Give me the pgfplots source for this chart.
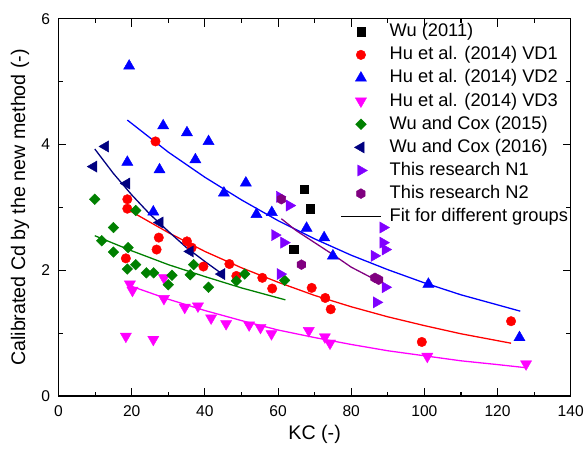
\documentclass[border=0pt]{standalone}
\usepackage{fontspec}
\setmainfont{Liberation Sans}
\usepackage{pgfplots}
\pgfplotsset{compat=1.18}

\definecolor{navyc}{RGB}{0,0,128}
\definecolor{violetc}{RGB}{128,0,255}
\definecolor{purplec}{RGB}{128,0,128}
\definecolor{greenc}{RGB}{0,128,0}
\definecolor{magc}{RGB}{255,0,255}
\definecolor{bluec}{RGB}{0,0,255}
\definecolor{redc}{RGB}{255,0,0}

% filled hexagon mark
\pgfdeclareplotmark{hexa*}{%
  \pgfpathmoveto{\pgfqpointpolar{30}{\pgfplotmarksize}}%
  \pgfpathlineto{\pgfqpointpolar{90}{\pgfplotmarksize}}%
  \pgfpathlineto{\pgfqpointpolar{150}{\pgfplotmarksize}}%
  \pgfpathlineto{\pgfqpointpolar{210}{\pgfplotmarksize}}%
  \pgfpathlineto{\pgfqpointpolar{270}{\pgfplotmarksize}}%
  \pgfpathlineto{\pgfqpointpolar{330}{\pgfplotmarksize}}%
  \pgfpathclose
  \pgfusepathqfillstroke}

\pgfplotsset{
  pts/.style={only marks, draw=#1, fill=#1,
    legend image code/.code={\draw[mark repeat=2,mark phase=2,##1] plot coordinates {(0pt,0pt)(20pt,0pt)(40pt,0pt)};}},
  linelegend/.style={legend image code/.code={\draw[##1] (0pt,0pt) -- (40pt,0pt);}},
  fit/.style={#1, line width=1.3pt, no marks, forget plot},
}

\begin{document}
\begin{tikzpicture}
\begin{axis}[
  name=ax,
  scale only axis,
  width=516pt, height=380pt,
  xmin=0, xmax=140, ymin=0, ymax=6,
  xtick={0,20,...,140}, minor xtick={10,30,...,130},
  ytick={0,2,4,6}, minor ytick={1,3,5},
  tick align=inside,
  major tick length=8pt, minor tick length=4.5pt,
  axis line style={line width=1.3pt},
  every tick/.style={line width=1.1pt, black},
  /pgf/number format/assume math mode=true,
  tick label style={font=\fontsize{15.7}{18}\selectfont},
  xticklabel style={yshift=-6pt},
  yticklabel style={xshift=-5pt},
  label style={font=\fontsize{19.8}{23}\selectfont},
  xlabel={KC (-)},
  ylabel={Calibrated Cd by the new method (-)},
  xlabel style={at={(axis description cs:0.5,-0.1026)}, anchor=center},
  ylabel style={at={(axis description cs:-0.075,0.5)}, anchor=center},
  legend style={draw=none, fill=none, inner sep=0pt, at={(0.55,0.997)}, anchor=north west,
    font=\fontsize{18.4}{22}\selectfont,
    nodes={text height=14.3pt, text depth=4.3pt, inner sep=2.35pt},
    column sep=6pt},
  legend cell align=left,
]

% fitted curves
\addplot[fit=bluec] coordinates {(18.8,4.39)(30,3.88)(40,3.48)(50,3.12)(60,2.79)(70,2.50)(80,2.24)(90,2.01)(100,1.80)(110,1.61)(120,1.45)(126.2,1.35)};
\addplot[fit=redc] coordinates {(18.8,2.97)(30,2.60)(40,2.30)(50,2.04)(60,1.81)(70,1.60)(80,1.42)(90,1.26)(100,1.12)(110,0.99)(123.7,0.84)};
\addplot[fit=magc] coordinates {(19.7,1.75)(30,1.54)(40,1.36)(50,1.20)(60,1.05)(70,0.93)(80,0.82)(90,0.72)(100,0.64)(110,0.56)(120,0.50)(127.8,0.45)};
\addplot[fit=greenc] coordinates {(9.9,2.55)(20,2.31)(30,2.09)(40,1.90)(50,1.72)(62,1.53)};
\addplot[fit=navyc] coordinates {(9.9,3.93)(15,3.54)(20,3.20)(25,2.89)(30,2.62)(35,2.36)(40,2.14)(45,1.93)};
\addplot[fit=purplec] coordinates {(60.9,2.82)(65,2.63)(70,2.44)(75,2.25)(80,2.05)(86.6,1.85)};

% Wu (2011)
\addplot[pts=black, mark=square*, mark size=4.2pt] coordinates {(67.2,3.29)(68.8,2.98)(64.3,2.34)};
\addlegendentry{Wu (2011)}
% Hu et al. (2014) VD1
\addplot[pts=redc, mark=*, mark size=4.8pt] coordinates {
  (26.5,4.05)(18.8,3.13)(18.8,2.98)(27.4,2.52)(26.8,2.33)(18.4,2.19)(35.1,2.46)(36.4,2.36)
  (39.6,2.06)(46.7,2.10)(48.6,1.91)(55.7,1.88)(58.4,1.71)(69.2,1.72)(72.9,1.56)(74.4,1.38)
  (99.3,0.86)(123.7,1.19)};
\addlegendentry{Hu et al. (2014) VD1}
% Hu et al. (2014) VD2
\addplot[pts=bluec, mark=triangle*, mark size=6.5pt] coordinates {
  (19.3,5.25)(18.8,3.72)(25.9,2.93)(27.6,3.60)(28.6,4.30)(35.1,4.19)(37.4,3.76)(41.0,4.05)
  (45.2,3.23)(51.2,3.39)(54.1,2.89)(58.3,2.92)(67.8,2.67)(72.6,2.52)(75.0,2.23)(101.1,1.78)(126.0,0.93)};
\addlegendentry{Hu et al. (2014) VD2}
% Hu et al. (2014) VD3
\addplot[pts=magc, mark=triangle*, mark size=6.5pt, mark options={rotate=180}] coordinates {
  (19.5,1.78)(20.2,1.68)(28.8,1.55)(28.8,1.88)(34.5,1.41)(38.1,1.43)(41.7,1.24)(45.8,1.15)
  (18.4,0.95)(25.9,0.90)(52.1,1.13)(55.2,1.09)(58.2,0.99)(68.4,1.04)(72.8,0.94)(74.2,0.84)
  (100.8,0.63)(127.8,0.51)};
\addlegendentry{Hu et al. (2014) VD3}
% Wu and Cox (2015)
\addplot[pts=greenc, mark=square*, mark size=3.8pt, mark options={rotate=45}] coordinates {
  (9.9,3.13)(21.1,2.95)(15.0,2.68)(11.8,2.47)(19.0,2.36)(15.0,2.29)(21.1,2.09)(36.9,2.09)
  (18.8,2.02)(24.0,1.96)(26.0,1.96)(31.0,1.92)(30.0,1.77)(36.0,1.93)(41.0,1.73)
  (48.6,1.83)(50.9,1.94)(61.8,1.84)};
\addlegendentry{Wu and Cox (2015)}
% Wu and Cox (2016)
\addplot[pts=navyc, mark=triangle*, mark size=6.5pt, mark options={rotate=90}] coordinates {
  (12.8,3.97)(9.6,3.65)(18.6,3.38)(27.7,2.76)(36.0,2.30)(44.6,1.94)};
\addlegendentry{Wu and Cox (2016)}
% This research N1
\addplot[pts=violetc, mark=triangle*, mark size=6.5pt, mark options={rotate=-90}] coordinates {
  (60.4,3.17)(63.1,3.03)(59.1,2.56)(61.6,2.44)(60.6,1.94)(88.7,2.68)(88.7,2.44)(89.3,2.33)
  (86.3,2.23)(89.3,1.73)(86.9,1.49)};
\addlegendentry{This research N1}
% This research N2
\addplot[pts=purplec, mark=hexa*, mark size=5pt] coordinates {
  (60.9,3.13)(66.4,2.09)(86.5,1.88)(87.5,1.85)};
\addlegendentry{This research N2}

\addlegendimage{black, line width=1.3pt, linelegend}
\addlegendentry{Fit for different groups}
\end{axis}
\path ([xshift=-59pt,yshift=-56pt]ax.south west) rectangle ([xshift=12pt,yshift=19pt]ax.north east);
\end{tikzpicture}
\end{document}
